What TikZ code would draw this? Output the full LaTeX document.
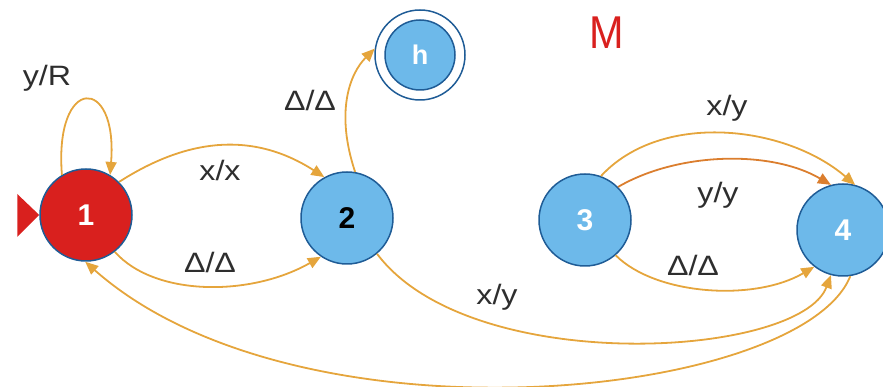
\documentclass[tikz,border=0pt]{standalone}
\usepackage{fontspec}
\setmainfont{Liberation Sans}
\usetikzlibrary{arrows.meta}
\definecolor{edgec}{HTML}{E5A53C}
\definecolor{edgedark}{HTML}{DB7E2E}
\definecolor{bluefill}{HTML}{6DB9EA}
\definecolor{blueline}{HTML}{1F5C96}
\definecolor{redfill}{HTML}{D9201E}
\definecolor{labelc}{HTML}{2E2E2E}
\begin{document}
\begin{tikzpicture}[x=1pt,y=1pt,
  state/.style={circle,draw=blueline,line width=1.5pt,fill=bluefill,minimum size=92pt,inner sep=0pt,
    font=\fontsize{30}{34}\selectfont\bfseries,text=white},
  startstate/.style={state,fill=redfill},
  ringst/.style={circle,draw=blueline,line width=1.5pt,minimum size=90pt,inner sep=0pt},
  edge/.style={draw=edgec,line width=1.8pt,-{Triangle[length=13pt,width=11pt]}},
  lbl/.style={font=\fontsize{28}{32}\selectfont,text=labelc,inner sep=0pt,xscale=1.15}]
\useasboundingbox (0,0) rectangle (883,387);
% states
\node[startstate] (n1) at (86,172) {1};
\node[state,text=black] (n2) at (347,169) {2};
\node[ringst] (nh) at (420,332) {};
\node[state,minimum size=70pt,font=\fontsize{27}{30}\selectfont\bfseries] (nhi) at (nh.center) {h};
\node[state] (n3) at (585,167) {3};
\node[state] (n4) at (843,157) {4};
% initial marker
\coordinate (tip) at (n1.west);
\fill[redfill] (tip) -- ++(-22,21) -- ++(0,-43) -- cycle;
% title
\node[font=\fontsize{46}{50}\selectfont,text=redfill,xscale=0.9] (title) at (607,354) {M};
% edges
\draw[edge] (n1.121) .. controls +(-8,100) and +(8,100) .. (n1.59);
\draw[edge] (n1.45) .. controls +(70,45) and +(-70,45) .. (n2.119);
\draw[edge] (n1.-52) .. controls +(40,-45) and +(-70,-40) .. (n2.-124);
\draw[edge] (n2.80) .. controls +(-20,60) and +(-25,-25) .. (nh.172);
\draw[edge] (n3.70) .. controls +(60,65) and +(-70,60) .. (n4.75);
\draw[edge,draw=edgedark] (n3.45) .. controls +(60,35) and +(-60,35) .. (n4.105);
\draw[edge] (n3.-49) .. controls +(40,-40) and +(-60,-35) .. (n4.-128);
\draw[edge] (n2.-50) .. controls +(93,-124) and +(-31,-83) .. (n4.-105);
\draw[edge] (n4.-81) .. controls +(-49,-122) and +(215,-190) .. (n1.-91);
% labels
\node[lbl] (l1) at (47,309) {y/R};
\node[lbl] (l2) at (220,217) {x/x};
\node[lbl] (l3) at (210,125) {Δ/Δ};
\node[lbl] (l4) at (310,287) {Δ/Δ};
\node[lbl] (l5) at (727,279) {x/y};
\node[lbl] (l6) at (718,192) {y/y};
\node[lbl] (l7) at (693,122) {Δ/Δ};
\node[lbl] (l8) at (497,90) {x/y};
\end{tikzpicture}
\end{document}
